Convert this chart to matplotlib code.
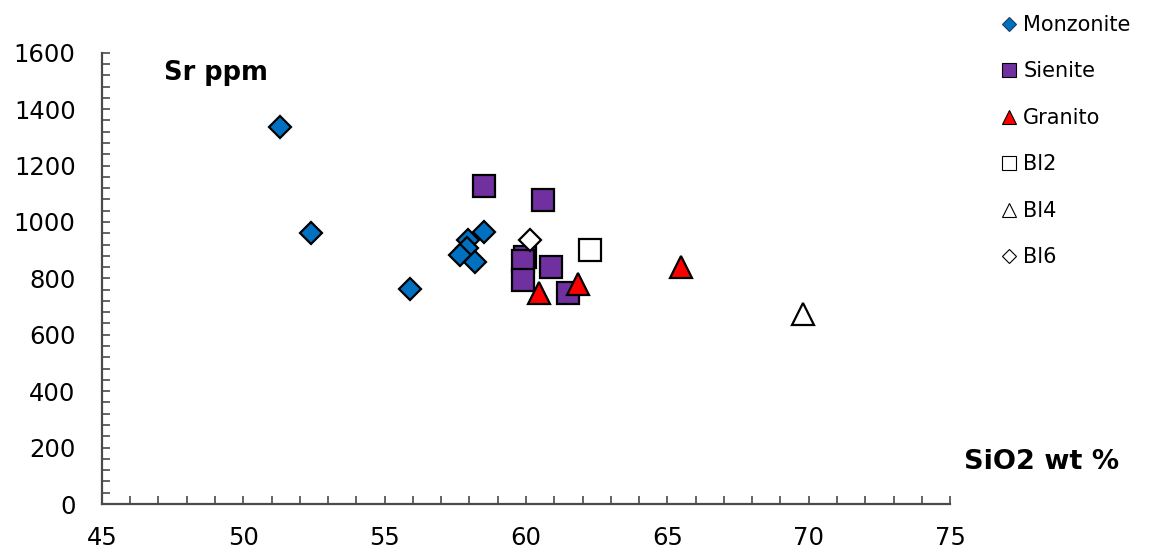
import matplotlib.pyplot as plt
from matplotlib.lines import Line2D
from matplotlib.ticker import MultipleLocator

# SiO2 (wt %) vs Sr (ppm) per litotipo
monz_sio2 = [51.3, 52.4, 55.9, 58.5, 57.95, 57.9, 57.65, 58.2]
monz_sr = [1336, 961, 762, 965, 936, 906, 883, 859]

sien_sio2 = [58.5, 60.6, 59.95, 59.9, 59.88, 60.9, 61.5]
sien_sr = [1127, 1078, 876, 860, 794, 841, 747]

gran_sio2 = [60.45, 61.85, 65.5]
gran_sr = [749, 779, 841]

bl2_sio2 = [62.25]
bl2_sr = [900]
bl4_sio2 = [69.8]
bl4_sr = [672]
bl6_sio2 = [60.15]
bl6_sr = [936]

blue = '#0070C0'
purple = '#7030A0'
red = '#FF0000'
axis_col = '#4a4a4a'

fig = plt.figure(figsize=(11.52, 5.53), dpi=100)
ax = fig.add_axes([0.0885, 0.0886, 0.7362, 0.8161])

ew = 1.6
ax.plot(monz_sio2, monz_sr, 'D', ms=11.5, mfc=blue, mec='black', mew=ew, ls='none')
ax.plot(sien_sio2, sien_sr, 's', ms=15.5, mfc=purple, mec='black', mew=ew, ls='none')
ax.plot(gran_sio2, gran_sr, '^', ms=15.5, mfc=red, mec='black', mew=ew, ls='none')
ax.plot(bl2_sio2, bl2_sr, 's', ms=15.5, mfc='white', mec='black', mew=ew, ls='none')
ax.plot(bl4_sio2, bl4_sr, '^', ms=15.5, mfc='white', mec='black', mew=ew, ls='none')
ax.plot(bl6_sio2, bl6_sr, 'D', ms=11.5, mfc='white', mec='black', mew=ew, ls='none')

ax.set_xlim(45, 75)
ax.set_ylim(0, 1600)
ax.xaxis.set_major_locator(MultipleLocator(5))
ax.xaxis.set_minor_locator(MultipleLocator(1))
ax.yaxis.set_major_locator(MultipleLocator(200))
ax.yaxis.set_minor_locator(MultipleLocator(40))

for side in ['top', 'right']:
    ax.spines[side].set_visible(False)
for side in ['left', 'bottom']:
    ax.spines[side].set_color(axis_col)
    ax.spines[side].set_linewidth(1.6)

ax.tick_params(which='both', direction='in', color=axis_col, width=1.2,
               length=6, labelsize=17.5, pad=19)
ax.tick_params(axis='x', which='both', pad=16)

ax.text(0.0735, 0.955, 'Sr ppm', transform=ax.transAxes, fontsize=18.5,
        fontweight='bold', va='center', ha='left')
ax.text(1.016, 0.092, 'SiO2 wt %', transform=ax.transAxes, fontsize=19.5,
        fontweight='bold', va='center', ha='left')

# legenda a destra, fuori dal grafico
handles = [
    Line2D([], [], marker='D', ls='none', ms=7, mfc=blue, mec='#1f3a5a', mew=0.8),
    Line2D([], [], marker='s', ls='none', ms=9.5, mfc=purple, mec='black', mew=0.8),
    Line2D([], [], marker='^', ls='none', ms=9.5, mfc=red, mec='black', mew=0.8),
    Line2D([], [], marker='s', ls='none', ms=9.5, mfc='white', mec='black', mew=0.8),
    Line2D([], [], marker='^', ls='none', ms=9.5, mfc='white', mec='black', mew=0.8),
    Line2D([], [], marker='D', ls='none', ms=7, mfc='white', mec='black', mew=0.8),
]
labels = ['Monzonite', 'Sienite', 'Granito', 'Bl2', 'Bl4', 'Bl6']
fig.legend(handles, labels, loc='upper left', bbox_to_anchor=(0.862, 0.988),
           frameon=False, fontsize=15, numpoints=1, handlelength=0.7,
           handletextpad=0.35, labelspacing=1.27, borderaxespad=0)

fig.savefig('out.png', dpi=100)
